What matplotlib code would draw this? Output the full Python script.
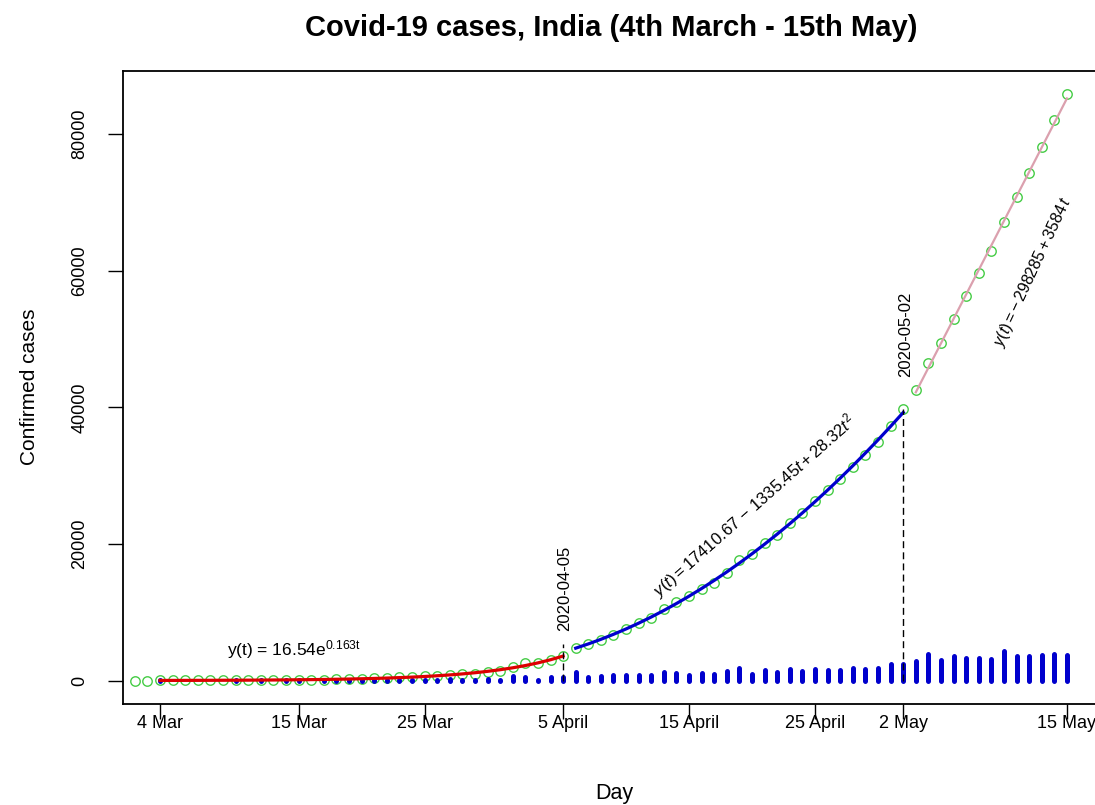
import numpy as np
import pandas as pd
import matplotlib
matplotlib.use('Agg')
import matplotlib.pyplot as plt

plt.rcParams['font.family'] = 'Liberation Sans'
plt.rcParams['mathtext.fontset'] = 'custom'
plt.rcParams['mathtext.rm'] = 'Liberation Sans'
plt.rcParams['mathtext.it'] = 'Liberation Sans:italic'

## cumulative confirmed cases, India, 2 March - 15 May 2020
dates = pd.date_range('2020-03-02', '2020-05-15')
confirmed = [5, 6, 28, 30, 31, 34, 39, 43, 56, 62,
             73, 82, 102, 113, 119, 142, 156, 194, 244, 330,
             396, 499, 536, 657, 727, 887, 987, 1024, 1251, 1397,
             1998, 2543, 2567, 3082, 3588, 4778, 5311, 5916, 6725, 7598,
             8446, 9205, 10453, 11487, 12322, 13430, 14352, 15722, 17615, 18539,
             20080, 21370, 23077, 24530, 26283, 27890, 29451, 31324, 33062, 34863,
             37257, 39699, 42505, 46437, 49400, 52987, 56351, 59695, 62808, 67161,
             70768, 74292, 78055, 81997, 85784]
# new cases reported each day
daily_new = [2, 1, 22, 2, 1, 3, 5, 4, 13, 6,
             11, 9, 20, 11, 6, 23, 14, 38, 50, 86,
             66, 103, 37, 121, 70, 160, 100, 37, 227, 146,
             601, 545, 24, 515, 506, 1190, 533, 605, 809, 873,
             848, 759, 1248, 1034, 835, 1108, 922, 1370, 1893, 924,
             1541, 1290, 1707, 1453, 1753, 1607, 1561, 1873, 1738, 1801,
             2394, 2442, 2806, 3932, 2963, 3587, 3364, 3344, 3113, 4353,
             3607, 3524, 3763, 3942, 3787]

# fitted models, t = 1 on 4 March for the first two pieces
exp_a, exp_b = 16.54, 0.163
quad_c = [17410.67, -1335.45, 28.32]
# linear piece: t = 1 on 30 January
lin_c = [-298285, 3584]

breaks = ['2020-04-05', '2020-05-02']
break_tops = [5300, 39699]

tick_dates = ['2020-03-04', '2020-03-15', '2020-03-25', '2020-04-05',
              '2020-04-15', '2020-04-25', '2020-05-02', '2020-05-15']
tick_labels = ['4 Mar', '15 Mar', '25 Mar', '5 April',
               '15 April', '25 April', '2 May', '15 May']

t0 = pd.Timestamp('2020-03-04')
day = np.array((dates - t0).days)
confirmed = np.array(confirmed)

fig = plt.figure(figsize=(10.95, 8.05), dpi=100)
ax = fig.add_axes([123/1095, 1-704/805, (1105-123)/1095, (704-71)/805])

ax.plot(day, confirmed, 'o', mfc='none', mec='#45cc45', ms=6.8, mew=1.0, zorder=2)

bars = ax.vlines(day, 0, daily_new, colors='#0000cd', lw=3.6, zorder=3)
bars.set_capstyle('round')

# piecewise fits
m1 = (day >= 0) & (day <= 32)
t1 = day[m1] + 1
ax.plot(day[m1], exp_a*np.exp(exp_b*t1), color='#dd0000', lw=2.3, zorder=4)

m2 = (day >= 33) & (day <= 59)
t2 = day[m2] + 1
ax.plot(day[m2], quad_c[0] + quad_c[1]*t2 + quad_c[2]*t2**2, color='#0000cd', lw=2.3, zorder=4)

m3 = day >= 60
t3 = (dates[m3] - pd.Timestamp('2020-01-30')).days + 1
ax.plot(day[m3], lin_c[0] + lin_c[1]*np.array(t3), color='#dba0ae', lw=1.6, zorder=4)

bx = [(pd.Timestamp(b) - t0).days for b in breaks]
ax.vlines(bx, 0, break_tops, colors='k', linestyles=(0, (5, 3)), lw=1.0, zorder=5)
ax.text(bx[0] + 0.1, 7300, breaks[0], rotation=90, ha='center', va='bottom', fontsize=12)
ax.text(bx[1] + 0.2, 44400, breaks[1], rotation=90, ha='center', va='bottom', fontsize=12)

ax.text(5.3, 3650, r'y(t) = 16.54e$^{\mathrm{0.163t}}$', ha='left', va='baseline', fontsize=12.5)
ax.text(47.2, 25550, r'$y(t) = 17410.67\,-\,1335.45t + 28.32t^2$', rotation=41.5,
        rotation_mode='anchor', ha='center', va='center', fontsize=12)
ax.text(69.3, 59850, r'$y(t) = -\,298285 + 3584\,t$', rotation=65,
        rotation_mode='anchor', ha='center', va='center', fontsize=11.5)

ax.set_xlim(-2.94, 75.02)
ax.set_ylim(-3430, 89215)

ax.set_xticks([(pd.Timestamp(d) - t0).days for d in tick_dates])
ax.set_xticklabels(tick_labels)
ax.set_yticks([0, 20000, 40000, 60000, 80000])
ax.tick_params(axis='x', length=11, width=1, pad=-3, labelsize=13)
ax.tick_params(axis='y', length=11, width=1, pad=14, labelsize=13, labelrotation=90)
for lab in ax.get_yticklabels():
    lab.set_va('center')

for s in ['left', 'top', 'bottom']:
    ax.spines[s].set_linewidth(1.3)
ax.spines['right'].set_visible(False)

fig.text(611/1095, 1-28/805, 'Covid-19 cases, India (4th March - 15th May)',
         ha='center', va='center', fontsize=21, fontweight='bold')
fig.text(614/1095, 1-793/805, 'Day', ha='center', va='center', fontsize=15.5)
fig.text(30/1095, 1-387/805, 'Confirmed cases', ha='center', va='center',
         rotation=90, fontsize=15)

fig.savefig('out.png', dpi=100)
